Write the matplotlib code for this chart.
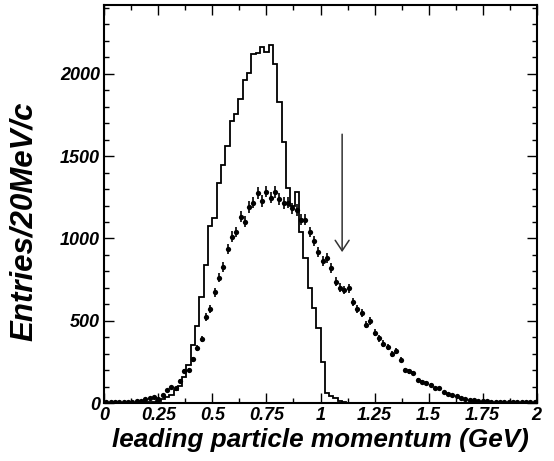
import numpy as np
import matplotlib
matplotlib.use("Agg")
import matplotlib.pyplot as plt
from matplotlib.ticker import MultipleLocator

# bin edges: 100 bins of 20 MeV/c from 0 to 2 GeV
bin_edges = np.linspace(0.0, 2.0, 101)

# solid histogram (MC / reference distribution)
hist_counts = [
    0, 0, 0, 1, 1, 1, 2, 2, 3, 4,
    6, 8, 12, 22, 38, 50, 78, 103, 156, 231,
    355, 470, 643, 839, 1075, 1123, 1339, 1445, 1562, 1714,
    1755, 1846, 1964, 2004, 2122, 2125, 2162, 2132, 2178, 2061,
    1826, 1583, 1307, 1200, 1280, 1041, 880, 701, 580, 457,
    251, 62, 40, 28, 12, 5, 0, 0, 0, 0,
    0, 0, 0, 0, 0, 0, 0, 0, 0, 0,
    0, 0, 0, 0, 0, 0, 0, 0, 0, 0,
    0, 0, 0, 0, 0, 0, 0, 0, 0, 0,
    0, 0, 0, 0, 0, 0, 0, 0, 0, 0,
]

# data points (bin centres)
data_counts = [
    5, 6, 6, 7, 7, 8, 9, 11, 15, 22,
    32, 38, 25, 49, 79, 95, 89, 136, 195, 201,
    266, 332, 389, 521, 572, 673, 762, 825, 936, 1011,
    1038, 1133, 1102, 1190, 1218, 1275, 1226, 1285, 1248, 1281,
    1238, 1214, 1218, 1183, 1173, 1112, 1112, 1038, 985, 918,
    861, 883, 820, 738, 701, 687, 697, 616, 570, 549,
    476, 498, 427, 393, 361, 339, 297, 316, 263, 201,
    192, 182, 138, 130, 120, 109, 89, 89, 67, 54,
    47, 43, 28, 24, 21, 17, 14, 11, 10, 9,
    8, 8, 7, 7, 6, 6, 5, 5, 5, 4,
]

x_ticks = [0, 0.25, 0.5, 0.75, 1, 1.25, 1.5, 1.75, 2]
x_ticklabels = ["0", "0.25", "0.5", "0.75", "1", "1.25", "1.5", "1.75", "2"]
y_ticks = [0, 500, 1000, 1500, 2000]
y_ticklabels = ["0", "500", "1000", "1500", "2000"]

arrow_x = 1.10
arrow_top = 1650
arrow_tip = 900

plt.rcParams['font.family'] = ['Liberation Sans', 'DejaVu Sans']

fig = plt.figure(figsize=(5.54, 4.61), dpi=100)
ax = fig.add_axes([0.1883, 0.1258, 0.9688 - 0.1883, 0.9898 - 0.1258])

edges = np.asarray(bin_edges)
centers = 0.5 * (edges[:-1] + edges[1:])
d = np.asarray(data_counts, dtype=float)

ax.stairs(hist_counts, edges, color="black", linewidth=1.3)
ax.errorbar(centers, d, yerr=np.sqrt(d), fmt="o", color="black",
            markersize=3.8, elinewidth=1.2, capsize=0, markeredgewidth=0)

ax.annotate("", xy=(arrow_x, arrow_tip), xytext=(arrow_x, arrow_top),
            arrowprops=dict(arrowstyle="->,head_length=0.75,head_width=0.5",
                            color="#333333", lw=1.1))

ax.set_xlim(0, 2)
ax.set_ylim(0, 2420)
ax.set_xticks(x_ticks)
ax.set_xticklabels(x_ticklabels)
ax.set_yticks(y_ticks)
ax.set_yticklabels(y_ticklabels)
ax.xaxis.set_minor_locator(MultipleLocator(0.125))
ax.yaxis.set_minor_locator(MultipleLocator(100))
ax.tick_params(which="both", direction="in", top=True, right=True, width=1.0)
ax.tick_params(which="major", length=7, pad=3)
ax.tick_params(which="minor", length=3.5)
for lab in ax.get_xticklabels() + ax.get_yticklabels():
    lab.set_fontsize(13)
    lab.set_fontweight("bold")
    lab.set_fontstyle("italic")
for s in ax.spines.values():
    s.set_linewidth(1.5)

ax.set_xlabel("leading particle momentum (GeV)", fontsize=18.8, fontweight="bold",
              fontstyle="italic")
ax.xaxis.set_label_coords(0.5, -0.064)
ax.set_ylabel("Entries/20MeV/c", fontsize=22.5, fontweight="bold",
              fontstyle="italic")
ax.yaxis.set_label_coords(-0.152, 0.457)

fig.savefig("out.png", dpi=100)
